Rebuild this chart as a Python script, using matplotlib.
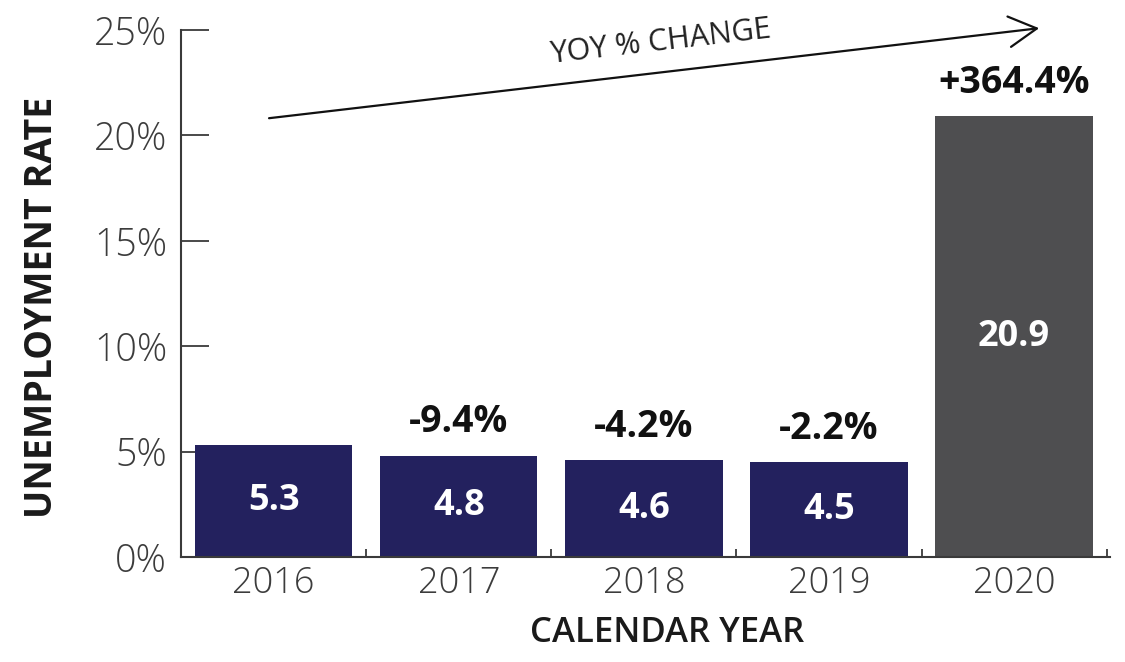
import matplotlib
matplotlib.use("Agg")
import matplotlib.pyplot as plt
from matplotlib.ticker import FixedLocator, PercentFormatter

years = ["2016", "2017", "2018", "2019", "2020"]
rates = [5.3, 4.8, 4.6, 4.5, 20.9]
rate_labels = ["5.3", "4.8", "4.6", "4.5", "20.9"]
yoy_labels = ["", "-9.4%", "-4.2%", "-2.2%", "+364.4%"]
bar_colors = ["#23215e", "#23215e", "#23215e", "#23215e", "#4e4e50"]
y_ticks = [0, 5, 10, 15, 20, 25]

FONT = "Open Sans"
plt.rcParams["font.family"] = [FONT, "DejaVu Sans"]

fig = plt.figure(figsize=(11.25, 6.62), dpi=100)
ax = fig.add_axes([0.161, 0.1586, 0.826, 0.7961])

x = list(range(len(years)))
bars = ax.bar(x, rates, width=0.85, color=bar_colors, zorder=2)

ax.set_xlim(-0.5, 4.52)
ax.set_ylim(0, 25)

for sp in ["top", "right"]:
    ax.spines[sp].set_visible(False)
for sp in ["left", "bottom"]:
    ax.spines[sp].set_color("#3a3a3a")
    ax.spines[sp].set_linewidth(1.5)

ax.set_yticks(y_ticks)
ax.yaxis.set_major_formatter(PercentFormatter(decimals=0))
ax.tick_params(axis="y", direction="in", length=20, width=1.3, color="#3a3a3a",
               labelsize=27, labelcolor="#3c3c3c", pad=10)
ax.set_xticks(x)
ax.set_xticklabels(years)
ax.tick_params(axis="x", which="major", length=0, labelsize=26, labelcolor="#3c3c3c", pad=6)
ax.xaxis.set_minor_locator(FixedLocator([0.5, 1.5, 2.5, 3.5, 4.5]))
ax.tick_params(axis="x", which="minor", direction="in", length=6, width=1.3, color="#3a3a3a")
for lab in ax.get_xticklabels() + ax.get_yticklabels():
    lab.set_fontweight("light")

ax.set_ylabel("UNEMPLOYMENT RATE", fontsize=27, fontweight="bold", color="#1a1a1a")
ax.yaxis.set_label_coords(-0.129, 0.474)
ax.set_xlabel("CALENDAR YEAR", fontsize=25, fontweight="semibold", color="#1a1a1a")
ax.xaxis.set_label_coords(0.523, -0.112)

for xi, v, t in zip(x, rates, rate_labels):
    ax.text(xi, v / 2, t, ha="center", va="center", color="white",
            fontsize=26, fontweight="bold", zorder=3)

for xi, v, t in zip(x, rates, yoy_labels):
    if t:
        ax.annotate(t, (xi, v), xytext=(0, 24), textcoords="offset points",
                    ha="center", va="center", fontsize=27, fontweight="bold",
                    color="#111111", annotation_clip=False)

ax.annotate("", xy=(4.15, 25.1), xytext=(-0.04, 20.8),
            arrowprops=dict(arrowstyle="->,head_length=2.0,head_width=1.1",
                            color="#111111", lw=1.6),
            annotation_clip=False)
ax.text(2.09, 24.4, "YOY % CHANGE", rotation=6.6, ha="center", va="center",
        fontsize=22, color="#222222", rotation_mode="anchor", clip_on=False)

fig.savefig("out.png", dpi=100, facecolor="white")
